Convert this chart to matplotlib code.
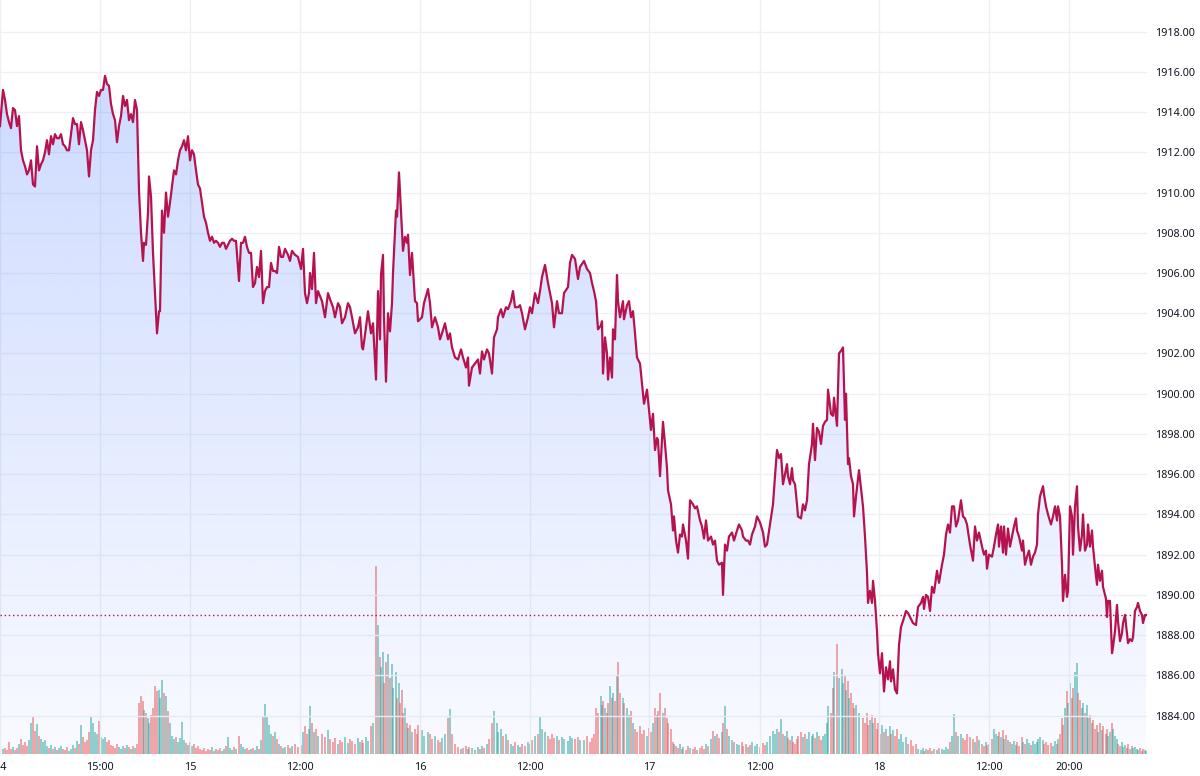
#!/bin/env python3
"""
Intraday price chart (area + volume) in a TradingView-like style.
"""

import numpy as np
import matplotlib
matplotlib.use("Agg")
import matplotlib.pyplot as plt
from matplotlib.colors import LinearSegmentedColormap

# ---- data: bar index, close price, volume ----
bars_a = [0, 3, 5, 7, 9, 11, 13, 15, 17, 19,
          21, 23, 25, 27, 29, 31, 33, 35, 37, 39,
          41, 43, 45, 47, 49, 51, 53, 55, 57, 59,
          61, 63, 65, 67, 69, 71, 73, 75, 77, 79,
          81, 83, 85, 87, 89, 91, 93, 95, 97, 99,
          101, 103, 105, 107, 109, 111, 113, 115, 117, 119,
          121, 123, 125, 127, 129, 131, 133, 135, 137, 139,
          141, 143, 144, 146, 148, 149, 151, 153, 155, 157,
          159, 160, 162, 164, 166, 168, 170, 172, 174, 176,
          178, 180, 182, 184, 186, 188, 190, 192, 194, 196,
          198, 200, 202, 204, 206, 208, 210, 212, 214, 216,
          218, 220, 222, 224, 226, 228, 230, 232, 234, 236,
          239, 241, 243, 245, 247, 249, 251, 253, 255, 257,
          259, 261, 263, 265, 267, 269, 271, 273, 275, 277,
          279, 281, 283]
price_a = [1913.3, 1915.1, 1914.6, 1913.9, 1913.5, 1913.2, 1914.2, 1914.1, 1913.3, 1913.8,
           1912.1, 1911.6, 1911.3, 1910.9, 1911.1, 1911.6, 1910.4, 1910.3, 1912.3, 1911.1,
           1911.4, 1911.6, 1912.0, 1912.6, 1911.9, 1912.8, 1912.4, 1912.9, 1912.7, 1912.7,
           1912.9, 1912.4, 1912.3, 1912.1, 1912.1, 1912.9, 1913.7, 1913.4, 1913.4, 1912.4,
           1913.5, 1913.1, 1912.6, 1912.1, 1910.8, 1912.1, 1912.6, 1914.1, 1915.0, 1914.8,
           1915.1, 1915.1, 1915.8, 1915.4, 1915.3, 1914.4, 1913.9, 1913.6, 1912.5, 1913.3,
           1913.8, 1914.8, 1914.3, 1914.6, 1913.6, 1913.9, 1913.5, 1914.6, 1914.1, 1910.1,
           1908.0, 1906.6, 1907.5, 1907.4, 1909.0, 1910.8, 1909.8, 1907.0, 1905.0, 1903.0,
           1904.1, 1904.1, 1909.1, 1908.0, 1910.0, 1908.8, 1909.5, 1910.3, 1911.1, 1910.9,
           1911.6, 1912.1, 1912.3, 1912.6, 1912.1, 1912.8, 1911.6, 1912.1, 1911.9, 1911.1,
           1910.4, 1910.2, 1909.5, 1908.8, 1908.5, 1908.0, 1907.6, 1907.8, 1907.5, 1907.6,
           1907.5, 1907.3, 1907.5, 1907.5, 1907.2, 1907.4, 1907.6, 1907.7, 1907.6, 1907.6,
           1905.6, 1907.5, 1907.5, 1907.8, 1907.3, 1907.0, 1907.0, 1905.3, 1905.5, 1906.3,
           1905.8, 1907.1, 1904.5, 1905.1, 1905.3, 1905.3, 1906.5, 1906.1, 1906.1, 1906.0,
           1907.3, 1906.8, 1906.8]
vol_a = [8, 5, 6, 4, 12, 5, 7, 4, 6, 10,
         15, 9, 12, 8, 14, 30, 36, 23, 29, 18,
         15, 12, 14, 8, 6, 9, 5, 7, 4, 6,
         8, 5, 4, 7, 3, 5, 9, 6, 13, 10,
         28, 17, 12, 14, 22, 36, 30, 22, 20, 32,
         17, 15, 17, 12, 14, 9, 8, 6, 10, 7,
         5, 8, 6, 9, 7, 5, 8, 6, 10, 50,
         57, 52, 43, 40, 35, 30, 38, 45, 67, 62,
         63, 55, 73, 60, 57, 42, 30, 18, 15, 17,
         12, 16, 31, 14, 11, 9, 12, 8, 10, 6,
         8, 5, 4, 6, 3, 5, 4, 7, 3, 5,
         4, 6, 3, 5, 8, 17, 6, 4, 7, 5,
         18, 10, 7, 5, 6, 4, 5, 6, 4, 8,
         5, 14, 37, 49, 37, 28, 20, 18, 22, 15,
         10, 8, 6]

bars_b = [285, 288, 290, 292, 295, 298, 301, 303, 305, 307,
          309, 310, 312, 314, 316, 318, 322, 325, 328, 330,
          333, 335, 338, 340, 342, 345, 348, 350, 352, 355,
          358, 360, 362, 363, 366, 368, 371, 373, 376, 378,
          380, 381, 383, 384, 386, 388, 390, 392, 393, 396,
          397, 399, 400, 402, 403, 405, 407, 408, 410, 412,
          415, 417, 418, 422, 424, 428, 430, 432, 435, 438,
          440, 442, 445, 448, 450, 452, 455, 458, 461, 463,
          466, 468, 469, 472, 475, 478, 480, 482, 484, 487,
          489, 492, 494, 497, 498, 501, 503, 506, 508, 511,
          513, 515, 518, 520, 522, 525, 528, 530, 532, 535,
          538, 540, 542, 545, 548, 550, 552, 554, 557, 559,
          562, 564, 568, 570, 572, 575, 578, 580]
price_b = [1907.2, 1906.9, 1906.6, 1907.1, 1906.9, 1906.8, 1906.2, 1907.2, 1905.0, 1904.5,
           1905.0, 1906.0, 1905.2, 1907.0, 1904.5, 1905.1, 1904.6, 1903.8, 1905.0, 1904.7,
           1904.3, 1903.8, 1904.5, 1904.3, 1903.5, 1903.8, 1904.5, 1904.3, 1903.8, 1903.0,
           1903.3, 1903.8, 1902.3, 1902.2, 1903.3, 1904.1, 1903.0, 1903.5, 1900.7, 1905.1,
           1902.7, 1905.9, 1906.9, 1903.8, 1900.6, 1904.0, 1903.1, 1904.5, 1906.0, 1909.1,
           1908.8, 1911.0, 1910.0, 1908.1, 1907.1, 1907.8, 1907.5, 1907.9, 1905.9, 1907.0,
           1904.6, 1904.5, 1903.6, 1903.8, 1904.5, 1905.2, 1904.5, 1903.3, 1903.8, 1903.3,
           1902.7, 1903.0, 1903.5, 1902.7, 1903.0, 1902.3, 1901.8, 1901.7, 1902.2, 1901.8,
           1901.3, 1901.8, 1900.4, 1901.3, 1901.5, 1901.7, 1901.0, 1902.1, 1901.7, 1902.2,
           1902.0, 1901.0, 1902.8, 1903.2, 1903.8, 1904.2, 1903.8, 1904.3, 1904.2, 1904.6,
           1905.1, 1904.3, 1904.3, 1904.4, 1904.0, 1903.2, 1903.8, 1904.3, 1904.0, 1905.0,
           1904.5, 1905.1, 1905.8, 1906.4, 1905.5, 1905.0, 1904.5, 1903.3, 1904.6, 1904.0,
           1904.0, 1905.0, 1905.3, 1906.5, 1906.9, 1906.7, 1905.7, 1906.3]
vol_b = [7, 9, 6, 8, 10, 7, 9, 22, 27, 20,
         25, 47, 30, 22, 25, 18, 20, 17, 24, 15,
         12, 16, 10, 14, 12, 17, 11, 15, 13, 10,
         16, 12, 14, 11, 17, 13, 27, 30, 185, 127,
         95, 85, 100, 70, 90, 98, 75, 88, 65, 80,
         55, 70, 50, 63, 40, 45, 30, 26, 28, 22,
         25, 20, 28, 24, 18, 22, 20, 15, 18, 14,
         12, 16, 20, 35, 44, 20, 10, 7, 5, 6,
         8, 5, 7, 6, 4, 7, 5, 8, 6, 10,
         15, 30, 42, 30, 22, 25, 18, 20, 14, 10,
         8, 12, 9, 7, 10, 8, 12, 10, 14, 18,
         20, 37, 25, 22, 18, 15, 20, 16, 18, 14,
         17, 15, 13, 18, 16, 15, 17, 14]

bars_c = [584, 587, 590, 592, 594, 596, 598, 601, 602, 603,
          605, 607, 608, 610, 612, 613, 615, 617, 618, 620,
          623, 624, 627, 629, 631, 633, 635, 637, 640, 642,
          644, 647, 649, 651, 653, 655, 657, 658, 660, 663,
          665, 667, 668, 671, 673, 674, 676, 678, 680, 682,
          683, 686, 688, 690, 693, 695, 697, 700, 702, 704,
          706, 708, 711, 713, 715, 717, 719, 722, 723, 725,
          727, 729, 732, 734, 737, 739, 742, 743, 746, 748,
          750, 752, 755, 757, 760, 763, 765, 767, 770, 773,
          775, 777, 779, 781, 783, 785, 787, 788, 790, 792,
          793, 795, 797, 798, 801, 803, 805, 807, 809, 812,
          813, 815, 817, 819, 821, 823, 825, 827, 828, 831,
          833, 834, 837, 839, 842, 843, 845, 846, 848, 849,
          851, 853, 854, 856, 859]
price_c = [1906.6, 1906.2, 1906.0, 1905.5, 1905.1, 1904.6, 1903.2, 1903.4, 1903.6, 1901.0,
           1902.8, 1902.0, 1900.7, 1901.8, 1900.8, 1903.2, 1902.7, 1905.9, 1904.6, 1903.8,
           1904.6, 1903.7, 1904.4, 1904.6, 1903.8, 1904.1, 1903.0, 1901.8, 1901.5, 1900.5,
           1899.5, 1900.2, 1899.2, 1898.2, 1899.0, 1897.2, 1897.8, 1897.7, 1895.9, 1898.6,
           1897.5, 1896.3, 1895.2, 1894.5, 1893.2, 1893.9, 1892.7, 1892.1, 1893.0, 1892.9,
           1893.5, 1892.7, 1891.8, 1894.7, 1894.5, 1894.3, 1894.4, 1893.7, 1893.4, 1892.8,
           1893.7, 1892.7, 1892.9, 1892.5, 1892.7, 1891.7, 1891.5, 1891.6, 1890.0, 1892.5,
           1892.2, 1892.9, 1893.1, 1892.7, 1893.2, 1893.5, 1893.2, 1892.9, 1892.7, 1892.7,
           1892.5, 1893.0, 1893.4, 1893.9, 1893.6, 1893.1, 1892.4, 1892.5, 1893.5, 1894.5,
           1895.9, 1897.2, 1896.8, 1897.0, 1895.5, 1896.0, 1896.5, 1895.9, 1895.5, 1896.3,
           1895.7, 1895.5, 1894.5, 1893.9, 1893.8, 1894.5, 1894.2, 1894.7, 1896.5, 1897.5,
           1898.5, 1896.7, 1898.3, 1898.1, 1897.5, 1898.4, 1898.6, 1898.7, 1900.2, 1899.0,
           1898.9, 1899.8, 1898.4, 1902.0, 1902.2, 1902.3, 1898.7, 1900.0, 1896.5, 1896.8,
           1895.9, 1895.5, 1893.9, 1894.9, 1896.2]
vol_c = [14, 18, 12, 16, 20, 45, 40, 57, 48, 52,
         45, 40, 50, 67, 55, 60, 52, 78, 90, 60,
         55, 50, 45, 38, 42, 30, 25, 22, 27, 20,
         24, 18, 26, 22, 30, 45, 38, 42, 60, 40,
         45, 35, 30, 25, 12, 10, 8, 6, 10, 5,
         7, 4, 8, 6, 5, 7, 4, 6, 8, 5,
         10, 8, 15, 23, 18, 20, 16, 22, 30, 47,
         25, 18, 14, 12, 10, 9, 12, 8, 10, 7,
         9, 12, 8, 10, 7, 11, 9, 12, 18, 23,
         20, 25, 22, 34, 20, 18, 23, 16, 14, 18,
         12, 10, 15, 18, 22, 17, 20, 15, 22, 18,
         20, 16, 22, 18, 14, 18, 20, 30, 47, 40,
         65, 80, 108, 75, 83, 70, 78, 63, 72, 55,
         60, 50, 45, 48, 40]

bars_d = [863, 865, 867, 868, 870, 872, 873, 875, 877, 878,
          880, 882, 884, 886, 888, 890, 891, 893, 895, 897,
          899, 901, 903, 906, 908, 911, 913, 916, 918, 921,
          923, 924, 926, 928, 930, 932, 934, 937, 939, 942,
          944, 946, 948, 950, 952, 954, 956, 958, 961, 963,
          965, 967, 970, 973, 975, 977, 979, 982, 984, 986,
          987, 989, 992, 994, 996, 998, 999, 1001, 1003, 1004,
          1006, 1008, 1010, 1012, 1014, 1016, 1017, 1019, 1022, 1023,
          1025, 1027, 1029, 1031, 1033, 1035, 1037, 1038, 1040, 1043,
          1044, 1046, 1048, 1051, 1053, 1055, 1057, 1058, 1060, 1062,
          1063, 1065, 1067, 1068, 1070, 1072, 1073, 1075, 1077, 1078,
          1080, 1082, 1083, 1085, 1087, 1088, 1090, 1092, 1093, 1095,
          1097, 1098, 1100, 1102, 1103, 1106, 1107, 1108, 1110, 1112,
          1113, 1115, 1117, 1118, 1120, 1122, 1123, 1125, 1127, 1128,
          1130, 1132, 1133, 1135, 1137, 1138, 1140, 1142, 1143, 1145,
          1146]
price_d = [1894.4, 1892.9, 1891.1, 1889.6, 1890.2, 1889.6, 1890.7, 1889.7, 1888.2, 1887.1,
           1886.1, 1887.1, 1885.2, 1886.4, 1885.8, 1886.7, 1885.7, 1886.3, 1885.3, 1885.1,
           1887.5, 1888.4, 1888.7, 1889.2, 1889.1, 1888.8, 1888.6, 1888.5, 1889.4, 1889.6,
           1889.9, 1889.3, 1890.0, 1889.9, 1889.2, 1890.4, 1890.1, 1891.2, 1890.6, 1891.5,
           1892.0, 1893.0, 1893.5, 1893.1, 1894.4, 1894.4, 1893.4, 1893.7, 1894.7, 1893.9,
           1893.8, 1893.5, 1892.5, 1891.7, 1893.4, 1892.7, 1893.1, 1892.4, 1892.0, 1892.2,
           1891.3, 1892.0, 1891.9, 1892.4, 1893.0, 1893.5, 1892.4, 1893.4, 1892.1, 1893.4,
           1892.0, 1893.3, 1892.4, 1892.9, 1893.4, 1893.8, 1893.2, 1892.9, 1892.2, 1892.7,
           1891.5, 1891.9, 1892.2, 1891.5, 1891.9, 1892.1, 1892.5, 1894.0, 1894.9, 1895.4,
           1895.0, 1894.4, 1894.0, 1893.5, 1893.9, 1894.4, 1893.7, 1894.4, 1893.9, 1891.5,
           1889.7, 1891.0, 1889.9, 1890.2, 1894.4, 1893.9, 1892.0, 1894.4, 1895.4, 1893.4,
           1892.2, 1893.0, 1894.0, 1892.2, 1892.5, 1893.5, 1892.4, 1893.2, 1892.4, 1891.4,
           1890.5, 1891.5, 1890.7, 1891.2, 1890.4, 1889.8, 1888.9, 1889.7, 1889.7, 1887.1,
           1887.4, 1888.2, 1889.5, 1888.7, 1887.7, 1888.1, 1888.6, 1889.0, 1888.1, 1887.6,
           1887.8, 1887.7, 1887.9, 1889.2, 1889.4, 1889.6, 1889.2, 1889.0, 1888.6, 1889.0,
           1889.0]
vol_d = [35, 30, 40, 28, 33, 38, 30, 35, 25, 30,
         20, 28, 22, 25, 18, 27, 20, 24, 18, 25,
         15, 20, 12, 17, 10, 14, 8, 10, 5, 4,
         6, 3, 5, 4, 6, 3, 5, 4, 6, 5,
         4, 7, 5, 12, 18, 39, 22, 18, 20, 16,
         14, 20, 17, 15, 12, 18, 14, 10, 8, 12,
         9, 10, 15, 25, 20, 18, 22, 17, 24, 15,
         19, 14, 12, 10, 13, 9, 12, 8, 17, 12,
         10, 15, 11, 9, 13, 10, 12, 15, 17, 14,
         10, 12, 9, 11, 8, 13, 10, 15, 20, 35,
         28, 45, 62, 50, 70, 55, 65, 80, 89, 60,
         53, 45, 50, 40, 48, 35, 38, 30, 33, 25,
         28, 22, 30, 24, 27, 20, 25, 18, 22, 30,
         25, 18, 15, 10, 8, 12, 7, 9, 6, 10,
         5, 8, 6, 7, 5, 4, 6, 3, 5, 4,
         3]

tick_bars = [0, 100, 190, 300, 420, 530, 649, 760, 879, 989, 1069]
tick_labels = ["14", "15:00", "15", "12:00", "16", "12:00", "17", "12:00", "18", "12:00", "20:00"]
price_ticks = list(range(1884, 1920, 2))

# ---- assemble ----
bars = np.array(bars_a + bars_b + bars_c + bars_d, dtype=float)
price = np.array(price_a + price_b + price_c + price_d)
volume = np.array(vol_a + vol_b + vol_c + vol_d, dtype=float)
assert len(bars) == len(price) == len(volume)

line_color = "#b5134f"
text_color = "#131722"
grid_color = "#eef0f4"
up_color = (38 / 255, 166 / 255, 154 / 255, 0.5)
down_color = (239 / 255, 83 / 255, 80 / 255, 0.5)

plt.rcParams["font.family"] = ["Noto Sans", "DejaVu Sans"]

W, H, DPI = 1200, 776, 100
fig = plt.figure(figsize=(W / DPI, H / DPI), dpi=DPI, facecolor="white")
rect = [0, 22 / H, 1147 / W, 754 / H]

x_lo, x_hi = 0, 1147
y_lo, y_hi = 1882.09, 1919.57

# volume pane underneath
ax_vol = fig.add_axes(rect, zorder=1)
ax_vol.set_facecolor("white")
diff = np.diff(price, prepend=price[0])
bar_colors = [up_color if d >= 0 else down_color for d in diff]
ax_vol.bar(bars, volume, width=2.0, color=bar_colors, linewidth=0, align="center")
ax_vol.set_xlim(x_lo, x_hi)
ax_vol.set_ylim(0, volume.max() * 4.0)
ax_vol.axis("off")

# price pane on top
ax = fig.add_axes(rect, zorder=2)
ax.patch.set_visible(False)

for p in price_ticks:
    ax.axhline(p, color=grid_color, lw=1.0, zorder=0)
for b in tick_bars:
    ax.axvline(b, color=grid_color, lw=1.0, zorder=0)

# gradient area below the line
poly = ax.fill_between(bars, price, y_lo, color="none", lw=0)
cmap = LinearSegmentedColormap.from_list(
    "area", [(41 / 255, 98 / 255, 1.0, 0.03), (41 / 255, 98 / 255, 1.0, 0.23)])
grad = np.linspace(0, 1, 256).reshape(-1, 1)
img = ax.imshow(grad, extent=[x_lo, x_hi, y_lo, price.max()], aspect="auto",
                origin="lower", cmap=cmap, zorder=1, interpolation="bicubic")
img.set_clip_path(poly.get_paths()[0], transform=ax.transData)

ax.plot(bars, price, color=line_color, lw=1.6, zorder=3, solid_joinstyle="round")
ax.axhline(price[-1], color=line_color, lw=1.0, ls=(0, (1, 2)), zorder=2)

ax.set_xlim(x_lo, x_hi)
ax.set_ylim(y_lo, y_hi)

ax.yaxis.tick_right()
ax.set_yticks(price_ticks)
ax.set_yticklabels([f"{p:.2f}" for p in price_ticks])
ax.set_xticks(tick_bars)
ax.set_xticklabels(tick_labels)
ax.tick_params(axis="both", length=0, labelsize=7.8, colors=text_color)
ax.tick_params(axis="y", pad=6)
ax.tick_params(axis="x", pad=6)
for s in ax.spines.values():
    s.set_visible(False)

fig.savefig("out.png", dpi=DPI, facecolor="white")
